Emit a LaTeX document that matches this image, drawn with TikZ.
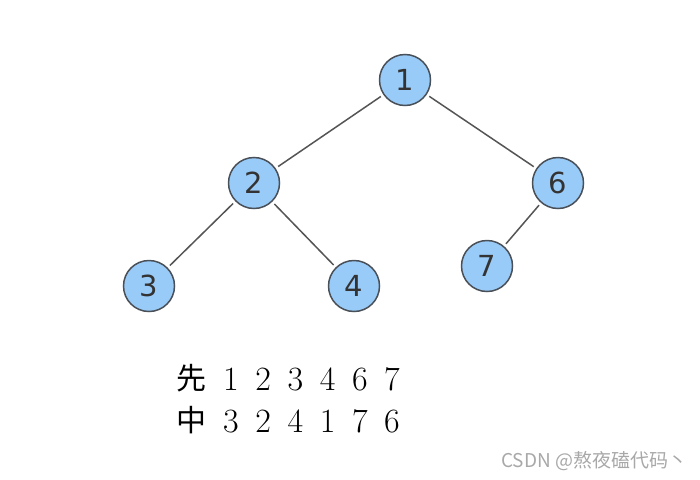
\documentclass[tikz,border=0pt]{standalone}
\usepackage{fontspec}
\newfontfamily\cjk{Noto Sans CJK SC}
\newfontfamily\numfont{DejaVu Sans}
\definecolor{nodefill}{HTML}{99CBF9}
\definecolor{nodeline}{HTML}{4A5058}
\definecolor{edgecol}{HTML}{555555}
\definecolor{numcol}{HTML}{333333}
\definecolor{wmcol}{HTML}{A8A8A8}
\tikzset{
  tnode/.style={circle, draw=nodeline, fill=nodefill, line width=1.5pt, minimum size=51pt, inner sep=0pt, font=\numfont\fontsize{29}{31}\selectfont, text=numcol},
  tedge/.style={draw=edgecol, line width=1.5pt, shorten <=3pt, shorten >=3pt},
  seqtxt/.style={anchor=base, inner sep=0pt, font=\fontsize{34}{36}\selectfont},
  cjktxt/.style={anchor=base, inner sep=0pt, font=\cjk\fontsize{30}{32}\selectfont}
}
\begin{document}
\begin{tikzpicture}[x=1pt,y=-1pt]
\useasboundingbox (0,0) rectangle (700,479);
\node[tnode] (n1) at (405,80) {1};
\node[tnode] (n2) at (254,183) {2};
\node[tnode] (n6) at (558,183) {6};
\node[tnode] (n3) at (149,286) {3};
\node[tnode] (n4) at (354,286) {4};
\node[tnode] (n7) at (487,266) {7};
\draw[tedge] (n1) -- (n2);
\draw[tedge] (n1) -- (n6);
\draw[tedge] (n2) -- (n3);
\draw[tedge] (n2) -- (n4);
\draw[tedge] (n6) -- (n7);
\node[cjktxt] (pre) at (191,389) {先};
\node[cjktxt] (mid) at (191,431) {中};
\foreach \d [count=\i] in {1,2,3,4,6,7} {
  \node[seqtxt] (p\i) at ({231+32.2*(\i-1)},390) {\d};
}
\foreach \d [count=\i] in {3,2,4,1,7,6} {
  \node[seqtxt] (m\i) at ({231+32.2*(\i-1)},432) {\d};
}
\node[anchor=base west, inner sep=0pt, text=wmcol, font=\cjk\fontsize{19}{21}\selectfont] (wm) at (501,467) {CSDN @熬夜磕代码丶};
\end{tikzpicture}
\end{document}
